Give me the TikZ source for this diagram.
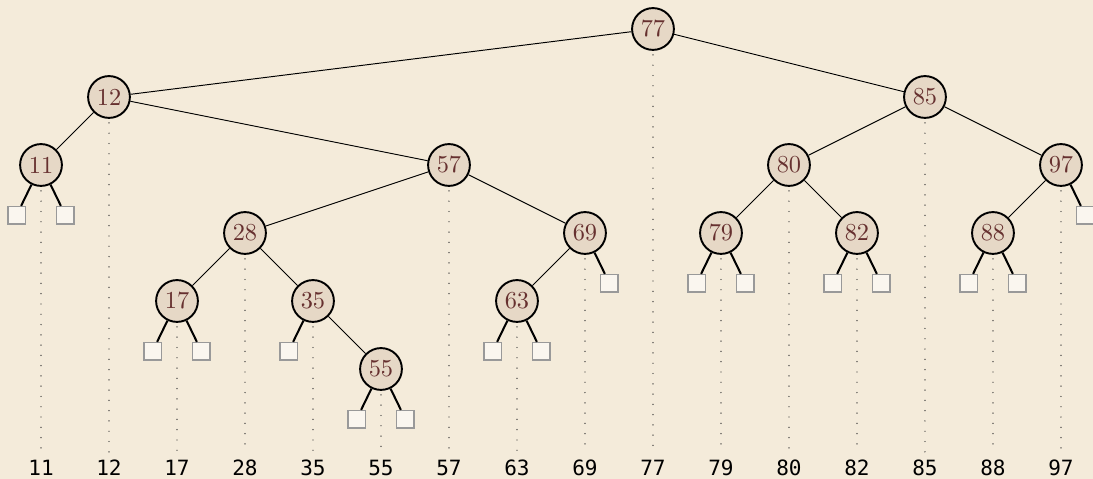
\documentclass[tikz,border=0pt]{standalone}
\usepackage{fontspec}
\setmonofont{DejaVu Sans Mono}
\usepackage{tikz}
\usetikzlibrary{calc}
\definecolor{bgcream}{HTML}{F4EBDA}
\definecolor{keyfill}{HTML}{E6D8C6}
\definecolor{keytext}{HTML}{66302F}
\definecolor{leaffill}{HTML}{FAF6EF}
\tikzset{
  key/.style={circle, draw=black, fill=keyfill, thick, inner sep=0pt,
              minimum size=17.5pt, text=keytext,
              font=\fontsize{10.2}{12}\selectfont},
  leaf/.style={rectangle, draw=black!40, fill=leaffill, line width=0.6pt,
               inner sep=0pt, minimum size=7.3pt},
  treeedge/.style={line width=0.4pt},
  leafedge/.style={line width=0.85pt},
  guide/.style={draw=black!80, line width=0.6pt, line cap=round,
                dash pattern=on 0pt off 4.3pt},
  keylabel/.style={font=\ttfamily\fontsize{8.8}{10}\selectfont,
                   inner sep=0pt, anchor=center},
}

\begin{document}
\begin{tikzpicture}
    %% background and page size
    \fill[bgcream] (0,0) rectangle (16.074,-7.044);
    \useasboundingbox (0,0) rectangle (16.074,-7.044);
    \begin{scope}[shift={(0.603,-0.4265)}]
      %% keys: x is the rank, y the depth
      \node[key] (n77) at (9,0)  {77};
      \node[key] (n12) at (1,-1) {12};
      \node[key] (n85) at (13,-1) {85};
      \node[key] (n11) at (0,-2) {11};
      \node[key] (n57) at (6,-2) {57};
      \node[key] (n80) at (11,-2) {80};
      \node[key] (n97) at (15,-2) {97};
      \node[key] (n28) at (3,-3) {28};
      \node[key] (n69) at (8,-3) {69};
      \node[key] (n79) at (10,-3) {79};
      \node[key] (n82) at (12,-3) {82};
      \node[key] (n88) at (14,-3) {88};
      \node[key] (n17) at (2,-4) {17};
      \node[key] (n35) at (4,-4) {35};
      \node[key] (n63) at (7,-4) {63};
      \node[key] (n55) at (5,-5) {55};
      %% inner edges
      \draw[treeedge] (n77)--(n12);
      \draw[treeedge] (n77)--(n85);
      \draw[treeedge] (n12)--(n11);
      \draw[treeedge] (n12)--(n57);
      \draw[treeedge] (n57)--(n28);
      \draw[treeedge] (n57)--(n69);
      \draw[treeedge] (n28)--(n17);
      \draw[treeedge] (n28)--(n35);
      \draw[treeedge] (n35)--(n55);
      \draw[treeedge] (n69)--(n63);
      \draw[treeedge] (n85)--(n80);
      \draw[treeedge] (n85)--(n97);
      \draw[treeedge] (n80)--(n79);
      \draw[treeedge] (n80)--(n82);
      \draw[treeedge] (n97)--(n88);
      %% empty leaves
      \foreach \k in {11,17,55,63,79,82,88} {
        \node[leaf] (n\k a) at ($(n\k)+(-0.36,-0.74)$) {};
        \node[leaf] (n\k b) at ($(n\k)+(0.36,-0.74)$) {};
        \draw[leafedge] (n\k)--(n\k a);
        \draw[leafedge] (n\k)--(n\k b);
      }
      \node[leaf] (n35a) at ($(n35)+(-0.36,-0.74)$) {};
      \draw[leafedge] (n35)--(n35a);
      \foreach \k in {69,97} {
        \node[leaf] (n\k b) at ($(n\k)+(0.36,-0.74)$) {};
        \draw[leafedge] (n\k)--(n\k b);
      }
      %% sorted keys along the bottom
      \foreach \k in {11,12,17,28,35,55,57,63,69,77,79,80,82,85,88,97} {
        \node[keylabel] (l\k) at (n\k |- 0,-6.456) {\k};
        \coordinate (g\k) at (n\k |- 0,-6.235);
        \draw[guide] ($(n\k.south)+(0,-0.06)$)--(g\k);
      }
    \end{scope}
  \end{tikzpicture}
\end{document}
